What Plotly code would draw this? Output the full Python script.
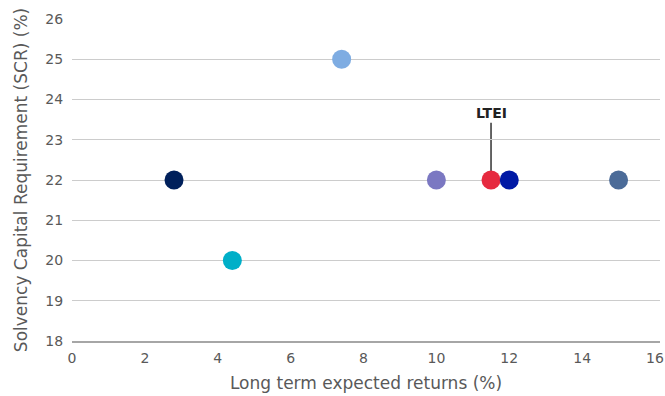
import plotly.graph_objects as go

names = ["A", "B", "C", "D", "LTEI", "F", "G"]
returns = [2.8, 4.4, 7.4, 10.0, 11.5, 12.0, 15.0]
scr = [22, 20, 25, 22, 22, 22, 22]
colors = ["#00205b", "#00afc8", "#7eace2", "#7b78c2", "#e62a3f", "#0019a5", "#4b6b98"]
y_ticks = [18, 19, 20, 21, 22, 23, 24, 25, 26]
x_ticks = [0, 2, 4, 6, 8, 10, 12, 14, 16]

font_family = "'DejaVu Sans', sans-serif"
txt = "#595959"

fig = go.Figure()
fig.add_trace(go.Scatter(
    x=returns, y=scr, mode="markers",
    marker=dict(size=19, color=colors, line=dict(width=0)),
    text=names, hoverinfo="text+x+y", showlegend=False,
))

# LTEI label and leader line
fig.add_shape(type="line", x0=11.5, x1=11.5, y0=22, y1=23.42,
              line=dict(color="#333333", width=1.5), layer="below")
fig.add_annotation(x=11.5, y=23.66, text="<b>LTEI</b>", showarrow=False,
                   font=dict(family=font_family, size=14, color="#222222"))

plot_w = 665 - 72 - 5
fig.update_layout(
    width=665, height=396,
    margin=dict(l=72, r=5, t=19, b=55),
    paper_bgcolor="white", plot_bgcolor="white",
    font=dict(family=font_family, size=15, color=txt),
    xaxis=dict(
        range=[0, 16 * plot_w / 583], tickvals=x_ticks, ticktext=[str(v) for v in x_ticks],
        showgrid=False, zeroline=False, automargin=False, ticklabeloverflow="allow",
        showline=True, linecolor="#a6a6a6", linewidth=2,
        ticks="outside", ticklen=3, tickcolor="rgba(0,0,0,0)",
        tickfont=dict(size=14, color=txt),
        title=dict(text="Long term expected returns (%)", font=dict(size=17, color=txt), standoff=12),
    ),
    yaxis=dict(
        range=[18, 26], tickvals=y_ticks, ticktext=[str(v) for v in y_ticks],
        showgrid=True, gridcolor="#cccccc", gridwidth=1, zeroline=False, automargin=False,
        ticks="outside", ticklen=5, tickcolor="rgba(0,0,0,0)",
        tickfont=dict(size=14, color=txt),
        title=dict(text="Solvency Capital Requirement (SCR) (%)", font=dict(size=17, color=txt), standoff=13),
    ),
)

fig.write_html("out.html", config={"displayModeBar": False},
               post_script="document.body.style.margin='0';document.body.style.overflow='hidden';")
